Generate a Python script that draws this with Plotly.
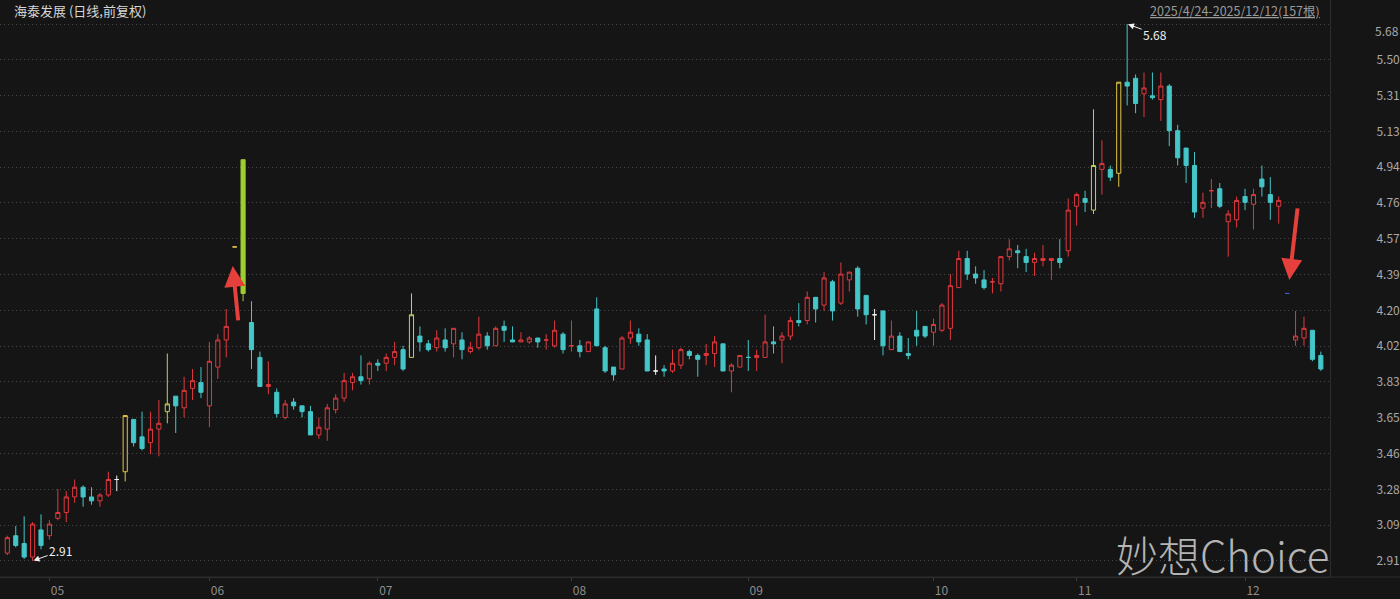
import plotly.graph_objects as go

# ---------------- data ----------------
title_text = "海泰发展 (日线,前复权)"
range_text = "2025/4/24-2025/12/12(157根)"
watermark_text = "妙想Choice"

opens = [2.95, 3.04, 3.00, 2.93, 3.07, 3.04, 3.13, 3.16, 3.24, 3.29,
         3.24, 3.22, 3.25, 3.33, 3.37, 3.64, 3.55, 3.52, 3.59, 3.68,
         3.76, 3.70, 3.80, 3.83, 3.71, 3.91, 4.05, 4.53, 4.98, 4.14,
         3.96, 3.81, 3.78, 3.65, 3.73, 3.71, 3.68, 3.56, 3.59, 3.69,
         3.75, 3.83, 3.86, 3.85, 3.93, 3.93, 3.96, 4.00, 3.96, 4.07,
         4.03, 4.01, 4.05, 4.03, 4.05, 3.99, 4.01, 4.07, 4.02, 4.12,
         4.05, 4.04, 4.04, 4.06, 4.05, 4.02, 4.08, 4.02, 4.02, 3.99,
         4.21, 4.01, 3.91, 3.90, 4.06, 4.08, 4.05, 3.89, 3.90, 3.89,
         3.92, 3.99, 3.97, 3.97, 3.98, 4.03, 3.89, 3.91, 3.96, 3.96,
         3.96, 4.04, 4.05, 4.07, 4.15, 4.15, 4.27, 4.23, 4.35, 4.24,
         4.36, 4.42, 4.28, 4.18, 4.20, 4.00, 4.07, 3.98, 4.10, 4.12,
         4.09, 4.10, 4.11, 4.32, 4.47, 4.39, 4.36, 4.35, 4.34, 4.48,
         4.51, 4.48, 4.45, 4.46, 4.46, 4.47, 4.51, 4.74, 4.78, 4.72,
         4.93, 4.93, 4.91, 5.38, 5.40, 5.32, 5.31, 5.29, 5.36, 5.13,
         5.04, 4.95, 4.73, 4.82, 4.83, 4.66, 4.67, 4.79, 4.75, 4.88,
         4.80, 4.74, 4.29, 4.05, 4.06, 4.10, 3.97]
highs = [3.04, 3.09, 3.14, 3.11, 3.15, 3.12, 3.28, 3.27, 3.33, 3.30,
         3.29, 3.26, 3.37, 3.35, 3.66, 3.64, 3.68, 3.68, 3.74, 3.98,
         3.76, 3.86, 3.90, 3.91, 4.04, 4.08, 4.21, 4.53, 4.98, 4.25,
         3.99, 3.94, 3.80, 3.74, 3.75, 3.71, 3.71, 3.65, 3.72, 3.77,
         3.88, 3.88, 3.97, 3.94, 3.95, 3.98, 4.04, 4.02, 4.29, 4.12,
         4.05, 4.10, 4.11, 4.11, 4.09, 4.04, 4.17, 4.09, 4.12, 4.15,
         4.12, 4.09, 4.07, 4.06, 4.08, 4.15, 4.09, 4.15, 4.05, 4.04,
         4.27, 4.02, 3.91, 4.07, 4.15, 4.11, 4.08, 3.97, 3.92, 4.00,
         4.01, 4.00, 3.98, 4.03, 4.07, 4.03, 3.93, 3.97, 4.05, 4.00,
         4.18, 4.12, 4.09, 4.17, 4.24, 4.30, 4.27, 4.40, 4.36, 4.45,
         4.40, 4.43, 4.28, 4.21, 4.20, 4.15, 4.09, 4.06, 4.20, 4.12,
         4.16, 4.24, 4.39, 4.51, 4.51, 4.43, 4.41, 4.37, 4.48, 4.57,
         4.54, 4.52, 4.50, 4.54, 4.47, 4.57, 4.78, 4.81, 4.82, 5.24,
         5.08, 4.95, 5.38, 5.68, 5.42, 5.43, 5.43, 5.43, 5.37, 5.16,
         5.04, 5.02, 4.81, 4.88, 4.86, 4.72, 4.79, 4.83, 4.83, 4.95,
         4.89, 4.79, 4.29, 4.20, 4.17, 4.10, 3.99]
lows = [2.94, 2.98, 2.92, 2.91, 2.97, 3.02, 3.12, 3.11, 3.21, 3.19,
        3.20, 3.19, 3.24, 3.27, 3.32, 3.50, 3.48, 3.46, 3.45, 3.62,
        3.57, 3.65, 3.74, 3.75, 3.60, 3.85, 3.96, 4.53, 4.25, 3.90,
        3.81, 3.77, 3.65, 3.64, 3.69, 3.65, 3.56, 3.54, 3.53, 3.67,
        3.73, 3.79, 3.82, 3.82, 3.89, 3.89, 3.92, 3.89, 3.96, 3.99,
        3.99, 3.99, 3.99, 3.96, 3.95, 3.98, 4.00, 4.00, 4.02, 4.04,
        4.04, 4.04, 4.03, 4.01, 4.00, 4.01, 3.98, 3.99, 3.96, 3.99,
        4.02, 3.88, 3.84, 3.90, 4.03, 4.02, 3.89, 3.87, 3.86, 3.88,
        3.90, 3.95, 3.86, 3.92, 3.91, 3.89, 3.78, 3.91, 3.89, 3.89,
        3.96, 3.98, 3.93, 4.05, 4.12, 4.13, 4.14, 4.20, 4.15, 4.23,
        4.30, 4.17, 4.13, 4.05, 3.97, 4.00, 3.99, 3.95, 4.02, 4.06,
        4.02, 4.09, 4.05, 4.32, 4.36, 4.34, 4.31, 4.29, 4.30, 4.46,
        4.42, 4.40, 4.38, 4.43, 4.36, 4.42, 4.48, 4.64, 4.71, 4.70,
        4.80, 4.87, 4.84, 5.26, 5.22, 5.20, 5.29, 5.18, 5.05, 4.95,
        4.86, 4.68, 4.68, 4.73, 4.73, 4.48, 4.63, 4.72, 4.62, 4.79,
        4.67, 4.65, 4.29, 4.02, 4.02, 3.94, 3.89]
closes = [3.03, 2.99, 2.93, 3.10, 2.99, 3.10, 3.16, 3.24, 3.29, 3.24,
          3.22, 3.25, 3.33, 3.33, 3.66, 3.52, 3.49, 3.59, 3.62, 3.72,
          3.71, 3.79, 3.84, 3.78, 3.94, 4.05, 4.12, 4.53, 4.29, 4.00,
          3.81, 3.82, 3.67, 3.72, 3.71, 3.68, 3.56, 3.60, 3.70, 3.75,
          3.84, 3.86, 3.84, 3.93, 3.92, 3.96, 3.99, 3.90, 4.18, 4.04,
          4.00, 4.06, 4.01, 4.11, 4.00, 4.01, 4.08, 4.02, 4.11, 4.10,
          4.04, 4.05, 4.06, 4.04, 4.05, 4.10, 4.00, 4.02, 3.99, 4.04,
          4.02, 3.89, 3.87, 4.06, 4.09, 4.04, 3.89, 3.89, 3.89, 3.93,
          4.00, 3.97, 3.95, 3.98, 4.04, 3.89, 3.92, 3.97, 3.96, 3.97,
          4.04, 4.03, 4.07, 4.15, 4.14, 4.27, 4.21, 4.37, 4.20, 4.39,
          4.40, 4.21, 4.18, 4.18, 4.02, 4.07, 3.99, 3.97, 4.07, 4.07,
          4.13, 4.23, 4.33, 4.47, 4.39, 4.37, 4.32, 4.35, 4.48, 4.52,
          4.50, 4.45, 4.47, 4.47, 4.47, 4.45, 4.72, 4.80, 4.76, 4.95,
          4.96, 4.89, 5.38, 5.36, 5.27, 5.35, 5.30, 5.36, 5.13, 4.99,
          4.95, 4.71, 4.76, 4.82, 4.74, 4.70, 4.77, 4.76, 4.80, 4.84,
          4.76, 4.77, 4.29, 4.07, 4.11, 3.95, 3.90]

# special trading days (bar index)
limit_up_close = [14, 132]        # closed at limit-up
limit_up_touched = [19, 48, 129]  # touched limit-up, closed below
limit_up_faded = [28]             # opened at limit-up, closed lower
one_price_up = [27]               # one-price limit-up
one_price_down = [152]            # one-price limit-down

month_labels = ["05", "06", "07", "08", "09", "10", "11", "12"]
month_start = [5, 24, 44, 67, 88, 110, 127, 147]

price_low_mark = 2.91
price_high_mark = 5.68
price_tick_labels = ["2.91", "3.09", "3.28", "3.46", "3.65", "3.83", "4.02", "4.20",
                     "4.39", "4.57", "4.76", "4.94", "5.13", "5.31", "5.50", "5.68"]

# ---------------- styling ----------------
BG = "#151515"
RED = "#e0393e"
CYAN = "#45c6c9"
STYLES = {
    "up": (RED, BG),
    "down": (CYAN, CYAN),
    "flat": ("#f2f2f2", BG),
    "limit": ("#e3c44a", BG),
    "touch": ("#bdd35f", BG),
    "fade": ("#9fce2f", "#9fce2f"),
    "one_up": ("#e3c44a", "#e3c44a"),
    "one_down": ("#3f5fd8", "#3f5fd8"),
}


def style_of(i):
    if i in one_price_up:
        return "one_up"
    if i in one_price_down:
        return "one_down"
    if i in limit_up_close:
        return "limit"
    if i in limit_up_touched:
        return "touch"
    if i in limit_up_faded:
        return "fade"
    if closes[i] > opens[i]:
        return "up"
    if closes[i] < opens[i]:
        return "down"
    prev = closes[i - 1] if i > 0 else opens[i]
    if closes[i] > prev:
        return "up"
    if closes[i] < prev:
        return "down"
    return "flat"


n = len(closes)
groups = {}
for i in range(n):
    groups.setdefault(style_of(i), []).append(i)

fig = go.Figure()
for key, idxs in groups.items():
    line_c, fill_c = STYLES[key]
    spec = dict(line=dict(color=line_c, width=1), fillcolor=fill_c)
    fig.add_trace(go.Candlestick(
        x=idxs,
        open=[opens[i] for i in idxs],
        high=[highs[i] for i in idxs],
        low=[lows[i] for i in idxs],
        close=[closes[i] for i in idxs],
        increasing=spec, decreasing=spec,
        whiskerwidth=0, hoverinfo="skip", showlegend=False,
    ))

tick_vals = [price_low_mark + k * (price_high_mark - price_low_mark) / 15 for k in range(16)]
tick_text = price_tick_labels[:-1] + [""]

W, H = 1400, 599
PLOT_W, PLOT_H = 1330, 577
FONT = "Noto Sans CJK SC"

fig.update_layout(
    width=W, height=H, autosize=False,
    margin=dict(l=0, r=W - PLOT_W, t=0, b=H - PLOT_H, pad=0, autoexpand=False),
    paper_bgcolor=BG, plot_bgcolor=BG,
    font=dict(family=FONT, color="#a8a8a8", size=12),
    hovermode=False,
    xaxis=dict(
        range=[-0.87, 157.09], rangeslider=dict(visible=False),
        showgrid=False, zeroline=False, automargin=False,
        tickvals=month_start, ticktext=month_labels, ticklabelshift=8,
        ticks="outside", ticklen=3, tickcolor="#3a3a3a",
        tickfont=dict(size=12, color="#8e8e8e"),
        showline=True, linecolor="#2c2c2c", linewidth=1,
    ),
    yaxis=dict(
        side="right", range=[2.827, 5.804], automargin=False,
        tickvals=tick_vals, ticktext=tick_text,
        showgrid=True, gridcolor="#474747", griddash="1px,3px", gridwidth=1,
        zeroline=False, ticks="", ticklabelstandoff=43,
        tickfont=dict(size=12, color="#a8a8a8"),
        showline=True, linecolor="#2c2c2c", linewidth=1,
    ),
)

# bottom separator extending under the price axis
fig.add_shape(type="line", xref="paper", yref="paper", x0=0, x1=W / PLOT_W, y0=0, y1=0,
              line=dict(color="#2c2c2c", width=1))

ann = []
ann.append(dict(xref="paper", yref="paper", x=12 / PLOT_W, y=1 - 11 / PLOT_H,
                xanchor="left", yanchor="middle", text=title_text, showarrow=False,
                font=dict(size=13, color="#d6d6d6", family=FONT)))
ann.append(dict(xref="paper", yref="paper", x=1322 / PLOT_W, y=1 - 11 / PLOT_H,
                xanchor="right", yanchor="middle", text="<u>" + range_text + "</u>",
                showarrow=False, font=dict(size=12.5, color="#9a9a9a", family=FONT)))
# top tick label shifted into view
ann.append(dict(xref="paper", yref="paper", x=1373 / PLOT_W, y=1 - 31 / PLOT_H,
                xanchor="left", yanchor="middle", text=price_tick_labels[-1],
                showarrow=False, font=dict(size=12, color="#a8a8a8", family=FONT)))
# max / min markers
i_max = max(range(n), key=lambda i: highs[i])
i_min = min(range(n), key=lambda i: lows[i])
ann.append(dict(x=i_max, y=highs[i_max], xref="x", yref="y", text="%.2f" % highs[i_max],
                showarrow=True, ax=28, ay=10, arrowhead=2, arrowsize=1.2, arrowwidth=1,
                arrowcolor="#f0f0f0", standoff=1,
                font=dict(size=12, color="#f0f0f0", family=FONT)))
ann.append(dict(x=i_min, y=lows[i_min], xref="x", yref="y", text="%.2f" % lows[i_min],
                showarrow=True, ax=28, ay=-10, arrowhead=2, arrowsize=1.2, arrowwidth=1,
                arrowcolor="#f0f0f0", standoff=1,
                font=dict(size=12, color="#f0f0f0", family=FONT)))
# red pointer arrows
ann.append(dict(x=26.77, y=4.432, xref="x", yref="y", text="", showarrow=True,
                ax=5.6, ay=56, arrowhead=2, arrowsize=1.05, arrowwidth=4,
                arrowcolor="#e5403c", standoff=0))
ann.append(dict(x=152.26, y=4.36, xref="x", yref="y", text="", showarrow=True,
                ax=8.4, ay=-73, arrowhead=2, arrowsize=1.05, arrowwidth=4,
                arrowcolor="#e5403c", standoff=0))
# watermark
ann.append(dict(xref="paper", yref="paper", x=1331 / PLOT_W, y=1 - 553 / PLOT_H,
                xanchor="right", yanchor="middle", text=watermark_text, showarrow=False,
                font=dict(size=42, color="#b4b4b4", family=FONT, weight=300)))
fig.update_layout(annotations=ann)

fig.write_html("out.html", config={"displayModeBar": False},
               post_script="document.body.style.margin='0px';document.body.style.overflow='hidden';")
